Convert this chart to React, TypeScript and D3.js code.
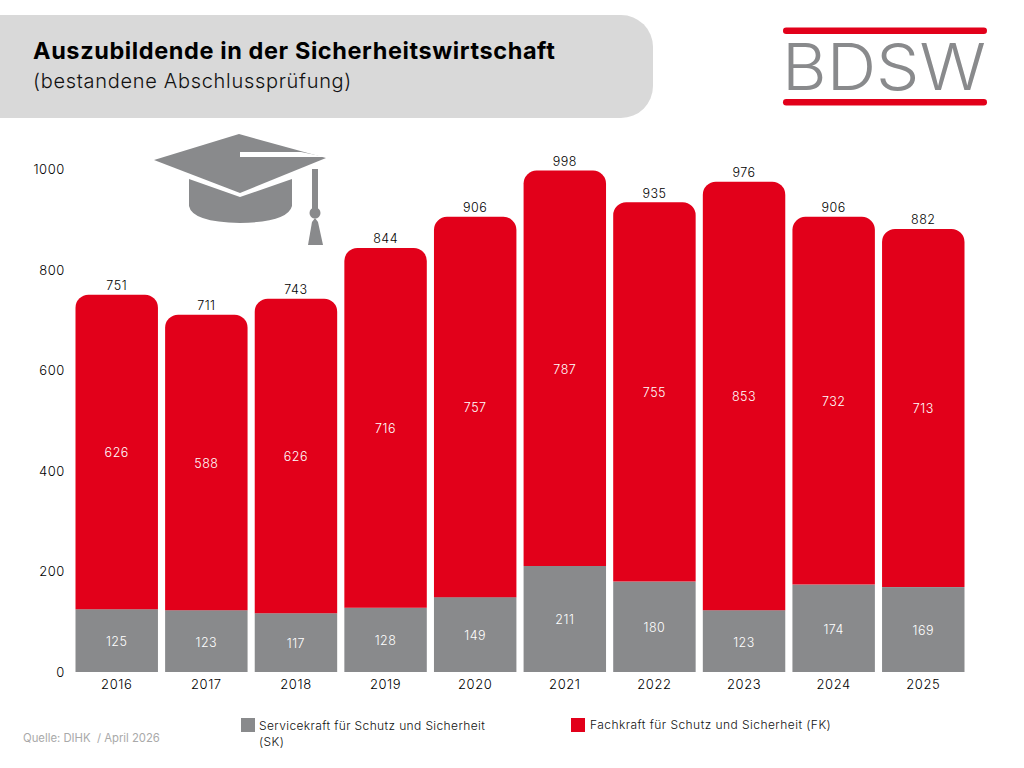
import React, { useEffect, useRef } from 'react';
import * as d3 from 'd3';

const years = ['2016', '2017', '2018', '2019', '2020', '2021', '2022', '2023', '2024', '2025'];
const serviceValues = [125, 123, 117, 128, 149, 211, 180, 123, 174, 169];
const fachValues = [626, 588, 626, 716, 757, 787, 755, 853, 732, 713];
const totals = [751, 711, 743, 844, 906, 998, 935, 976, 906, 882];
const yTicks = [0, 200, 400, 600, 800, 1000];

const RED = '#e2001a';
const GREY = '#898a8c';
const FONT = 'Inter, "Open Sans", sans-serif';

const width = 1024;
const height = 768;

const App = () => {
  const container = useRef<SVGSVGElement>(null);

  useEffect(() => {
    const svg = d3.select(container.current);
    svg.selectAll('*').remove();
    svg.style('font-family', FONT);

    const x = d3.scaleBand().domain(years).range([75.5, 964.5]).paddingInner(0.08);
    const y = d3.scaleLinear().domain([0, 1000]).range([672, 169.6]);

    /* HEADER */
    const header = d3.path();
    header.moveTo(0, 15);
    header.lineTo(621, 15);
    header.arcTo(653, 15, 653, 47, 32);
    header.lineTo(653, 86);
    header.arcTo(653, 118, 621, 118, 32);
    header.lineTo(0, 118);
    header.closePath();
    svg.append('path').attr('d', header.toString()).attr('fill', '#d9d9d9');

    svg
      .append('text')
      .attr('x', 33)
      .attr('y', 59)
      .attr('font-size', 23.5)
      .attr('font-weight', 700)
      .attr('letter-spacing', 0.6)
      .attr('fill', '#000')
      .text('Auszubildende in der Sicherheitswirtschaft');
    svg
      .append('text')
      .attr('x', 33)
      .attr('y', 88)
      .attr('font-size', 20)
      .attr('font-weight', 300)
      .attr('letter-spacing', 0.7)
      .attr('fill', '#111')
      .text('(bestandene Abschlussprüfung)');

    /* LOGO */
    const logo = svg.append('g');
    [30.5, 102].forEach(ly => {
      logo
        .append('rect')
        .attr('x', 783)
        .attr('y', ly - 3)
        .attr('width', 204)
        .attr('height', 6.5)
        .attr('rx', 3.2)
        .attr('fill', RED);
    });
    logo
      .append('text')
      .attr('x', 782)
      .attr('y', 90)
      .attr('font-size', 65)
      .attr('font-weight', 350)
      .attr('fill', GREY)
      .attr('textLength', 204)
      .attr('lengthAdjust', 'spacingAndGlyphs')
      .text('BDSW');

    /* CAP ICON */
    const cap = svg.append('g').attr('fill', GREY);
    cap.append('path').attr('d', 'M239,134 L326,158 L240,193 L154,160 Z');
    cap
      .append('path')
      .attr('d', 'M189,179 L240,197 L292,179 L292,206 Q288,222 240,223 Q192,222 189,206 Z');
    cap.append('path').attr('d', 'M240,152 L301,152 L326,157 L240,157 Z').attr('fill', '#fff');
    cap.append('rect').attr('x', 312).attr('y', 169).attr('width', 6).attr('height', 45);
    cap.append('circle').attr('cx', 315).attr('cy', 213).attr('r', 5.5);
    cap.append('path').attr('d', 'M315,218 L318,222 L323,245 L308,245 L312,222 Z');

    /* BARS */
    const rows = years.map((year, i) => ({
      year,
      service: serviceValues[i],
      fach: fachValues[i],
      total: totals[i]
    }));
    const stacked = d3.stack<any>().keys(['service', 'fach'])(rows);
    const radius = 13;

    const plot = svg.append('g');

    plot
      .selectAll('.bar-sk')
      .data(stacked[0])
      .join('rect')
      .attr('class', 'bar-sk')
      .attr('x', d => x(d.data.year))
      .attr('width', x.bandwidth())
      .attr('y', d => y(d[1]))
      .attr('height', d => y(d[0]) - y(d[1]))
      .attr('fill', GREY);

    plot
      .selectAll('.bar-fk')
      .data(stacked[1])
      .join('path')
      .attr('class', 'bar-fk')
      .attr('d', d => {
        const x0 = x(d.data.year);
        const x1 = x0 + x.bandwidth();
        const top = y(d[1]);
        const bottom = y(d[0]);
        const p = d3.path();
        p.moveTo(x0, bottom);
        p.lineTo(x0, top + radius);
        p.arcTo(x0, top, x0 + radius, top, radius);
        p.lineTo(x1 - radius, top);
        p.arcTo(x1, top, x1, top + radius, radius);
        p.lineTo(x1, bottom);
        p.closePath();
        return p.toString();
      })
      .attr('fill', RED);

    /* VALUE LABELS */
    stacked.forEach((layer, li) => {
      plot
        .selectAll('.inner-' + li)
        .data(layer)
        .join('text')
        .attr('class', 'inner-' + li)
        .attr('x', d => x(d.data.year) + x.bandwidth() / 2)
        .attr('y', d => y((d[0] + d[1]) / 2) + 1)
        .attr('dy', '0.36em')
        .attr('text-anchor', 'middle')
        .attr('font-size', 12.5)
        .attr('font-weight', 300)
        .attr('letter-spacing', 0.5)
        .attr('fill', '#fff')
        .text(d => d[1] - d[0]);
    });

    plot
      .selectAll('.total')
      .data(rows)
      .join('text')
      .attr('class', 'total')
      .attr('x', d => x(d.year) + x.bandwidth() / 2)
      .attr('y', d => y(d.total) - 4.5)
      .attr('text-anchor', 'middle')
      .attr('font-size', 12.5)
      .attr('font-weight', 300)
      .attr('letter-spacing', 0.5)
      .attr('fill', '#000')
      .text(d => d.total);

    /* AXES */
    const yAxis = d3
      .axisLeft(y)
      .tickValues(yTicks)
      .tickFormat(d3.format('d'))
      .tickSize(0)
      .tickPadding(0);
    const xAxis = d3.axisBottom(x).tickSize(0).tickPadding(8);

    const yg = svg.append('g').attr('transform', 'translate(65,0)').call(yAxis);
    const xg = svg.append('g').attr('transform', 'translate(0,672)').call(xAxis);
    [yg, xg].forEach(g => {
      g.select('.domain').remove();
      g.selectAll('text')
        .attr('font-family', FONT)
        .attr('font-size', 13)
        .attr('font-weight', 300)
        .attr('letter-spacing', 0.6)
        .attr('fill', '#000');
    });

    /* LEGEND */
    const legend = svg.append('g').attr('font-size', 12).attr('letter-spacing', 0.38).attr('font-weight', 300).attr('fill', '#111');
    legend.append('rect').attr('x', 241).attr('y', 718).attr('width', 14).attr('height', 14).attr('fill', GREY);
    legend.append('text').attr('x', 259).attr('y', 730).text('Servicekraft für Schutz und Sicherheit');
    legend.append('text').attr('x', 259).attr('y', 746).text('(SK)');
    legend.append('rect').attr('x', 571).attr('y', 718).attr('width', 14).attr('height', 14).attr('fill', RED);
    legend.append('text').attr('x', 590).attr('y', 729).attr('letter-spacing', 0.45).text('Fachkraft für Schutz und Sicherheit (FK)');

    svg
      .append('text')
      .attr('x', 23)
      .attr('y', 742)
      .attr('font-size', 11.3)
      .attr('fill', '#a9a9a9')
      .style('white-space', 'pre')
      .text('Quelle: DIHK  / April 2026');
  }, []);

  return (
    <svg
      ref={container}
      width={width}
      height={height}
      style={{ position: 'absolute', top: 0, left: 0, background: '#fff' }}
    />
  );
};

export default App;
